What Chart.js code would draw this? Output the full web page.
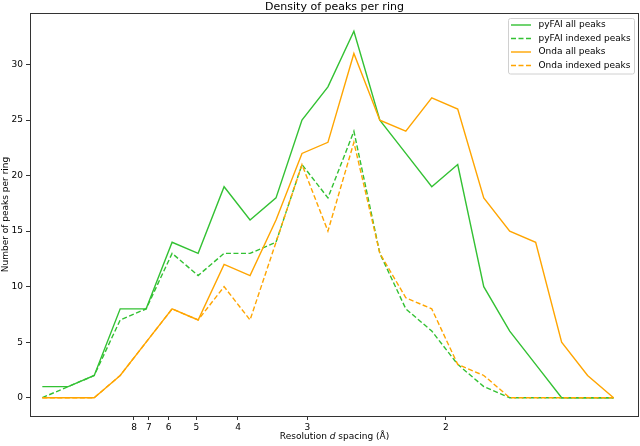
<!DOCTYPE html>
<html>
<head>
<meta charset="utf-8">
<script src="https://cdn.jsdelivr.net/npm/chart.js@4"></script>
<style>
  html, body { margin: 0; padding: 0; background: #fff; }
</style>
</head>
<body>
<canvas id="densityChart" width="640" height="446"></canvas>
<script>
// bin centres on the 1/d axis (1/Å)
const binCenters = [0.0148, 0.0460, 0.0772, 0.1084, 0.1396, 0.1708, 0.2021, 0.2333,
                    0.2645, 0.2957, 0.3269, 0.3581, 0.3893, 0.4205, 0.4517, 0.4829,
                    0.5141, 0.5454, 0.5766, 0.6078, 0.6390, 0.6702, 0.7014];
const pyfaiAll     = [1, 1, 2, 8, 8, 14, 13, 19, 16, 18, 25, 28, 33, 25, 22, 19, 21, 10, 6, 3, 0, 0, 0];
const pyfaiIndexed = [0, 1, 2, 7, 8, 13, 11, 13, 13, 14, 21, 18, 24, 13, 8, 6, 3, 1, 0, 0, 0, 0, 0];
const ondaAll      = [0, 0, 0, 2, 5, 8, 7, 12, 11, 16, 22, 23, 31, 25, 24, 27, 26, 18, 15, 14, 5, 2, 0];
const ondaIndexed  = [0, 0, 0, 2, 5, 8, 7, 10, 7, 14, 21, 15, 23, 13, 9, 8, 3, 2, 0, 0, 0, 0, 0];
const dSpacingTicks = [8, 7, 6, 5, 4, 3, 2];
const dSpacingLabels = ['8', '7', '6', '5', '4', '3', '2'];
const countTicks = [0, 5, 10, 15, 20, 25, 30];

const FONT = 'DejaVu Sans';
const GREEN = '#33c133';
const ORANGE = '#ffa500';

const toPoints = (ys) => ys.map((y, i) => ({ x: binCenters[i], y: y }));

// ─── frame, title, x label with italic d, legend inside the axes ───────────
const decorations = {
    id: 'decorations',
    afterDraw(chart) {
        const ctx = chart.ctx;
        const a = chart.chartArea;
        ctx.save();

        ctx.strokeStyle = '#333';
        ctx.lineWidth = 1;
        ctx.strokeRect(Math.round(a.left) + 0.5, Math.round(a.top) + 0.5,
                       Math.round(a.right - a.left) - 1, Math.round(a.bottom - a.top));

        const cx = (a.left + a.right) / 2;
        ctx.fillStyle = '#000';
        ctx.textBaseline = 'alphabetic';
        ctx.textAlign = 'center';
        ctx.font = '11px "' + FONT + '"';
        ctx.fillText('Density of peaks per ring', cx, 10);

        // x label: "Resolution d spacing (Å)" with d in italics
        const parts = [['Resolution ', 'normal'], ['d', 'italic'], [' spacing (Å)', 'normal']];
        let total = 0;
        parts.forEach(p => {
            ctx.font = p[1] + ' 9px "' + FONT + '"';
            total += ctx.measureText(p[0]).width;
        });
        let x = cx - total / 2;
        ctx.textAlign = 'left';
        parts.forEach(p => {
            ctx.font = p[1] + ' 9px "' + FONT + '"';
            ctx.fillText(p[0], x, 439);
            x += ctx.measureText(p[0]).width;
        });

        // legend
        ctx.beginPath();
        ctx.roundRect(508.5, 18.5, 126, 55.5, 2);
        ctx.fillStyle = 'rgba(255,255,255,0.8)';
        ctx.fill();
        ctx.strokeStyle = '#d0d0d0';
        ctx.stroke();
        ctx.font = '9px "' + FONT + '"';
        ctx.textBaseline = 'middle';
        chart.data.datasets.forEach((ds, i) => {
            const y = 25 + i * 13.5;
            ctx.beginPath();
            ctx.strokeStyle = ds.borderColor;
            ctx.lineWidth = ds.borderWidth;
            ctx.setLineDash(ds.borderDash || []);
            ctx.moveTo(511, y);
            ctx.lineTo(531, y);
            ctx.stroke();
            ctx.setLineDash([]);
            ctx.fillStyle = '#000';
            ctx.fillText(ds.label, 538.5, y);
        });
        ctx.restore();
    }
};

new Chart(document.getElementById('densityChart'), {
    type: 'line',
    data: {
        datasets: [
            { label: 'pyFAI all peaks', data: toPoints(pyfaiAll), borderColor: GREEN,
              borderWidth: 1.4, order: 4 },
            { label: 'pyFAI indexed peaks', data: toPoints(pyfaiIndexed), borderColor: GREEN,
              borderWidth: 1.4, borderDash: [5, 2.5], order: 3 },
            { label: 'Onda all peaks', data: toPoints(ondaAll), borderColor: ORANGE,
              borderWidth: 1.4, order: 2 },
            { label: 'Onda indexed peaks', data: toPoints(ondaIndexed), borderColor: ORANGE,
              borderWidth: 1.4, borderDash: [5, 2.5], order: 1 }
        ]
    },
    options: {
        responsive: false,
        animation: false,
        devicePixelRatio: 1,
        elements: { point: { radius: 0 }, line: { tension: 0, fill: false } },
        layout: { padding: { top: 13, right: 1, left: 0, bottom: 0 } },
        plugins: {
            legend: { display: false },
            title: { display: false },
            tooltip: { enabled: false }
        },
        scales: {
            x: {
                type: 'linear',
                min: 0,
                max: 0.732,
                afterBuildTicks: (s) => { s.ticks = dSpacingTicks.map(d => ({ value: 1 / d })); },
                afterFit: (s) => { s.height = 30; },
                ticks: {
                    autoSkip: false,
                    maxRotation: 0,
                    padding: 2,
                    color: '#000',
                    font: { family: FONT, size: 9 },
                    callback: (v, i) => dSpacingLabels[i]
                },
                grid: { drawOnChartArea: false, tickLength: 4, color: '#333' },
                border: { display: false }
            },
            y: {
                min: -1.65,
                max: 34.65,
                afterBuildTicks: (s) => { s.ticks = countTicks.map(v => ({ value: v })); },
                afterFit: (s) => { s.width = 30; },
                ticks: {
                    padding: 3,
                    color: '#000',
                    font: { family: FONT, size: 9 }
                },
                grid: { drawOnChartArea: false, tickLength: 4, color: '#333' },
                border: { display: false },
                title: {
                    display: true,
                    text: 'Number of peaks per ring',
                    color: '#000',
                    font: { family: FONT, size: 9 },
                    padding: 0
                }
            }
        }
    },
    plugins: [decorations]
});
</script>
</body>
</html>
